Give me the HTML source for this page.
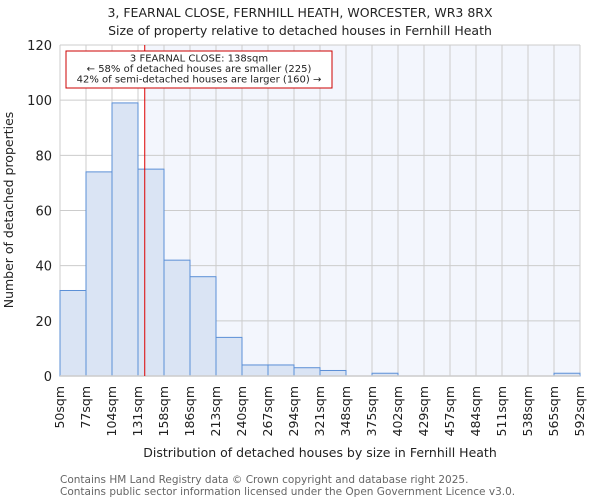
<!DOCTYPE html>
<html><head><meta charset="utf-8"><style>
body{margin:0;background:#fff;font-family:"DejaVu Sans","Liberation Sans",sans-serif}
</style></head><body>
<svg id="chart" width="600" height="500" xmlns="http://www.w3.org/2000/svg" font-family="DejaVu Sans, Liberation Sans, sans-serif">
<text x="300" y="17" text-anchor="middle" font-size="12.5" fill="#222">3, FEARNAL CLOSE, FERNHILL HEATH, WORCESTER, WR3 8RX</text>
<text x="300" y="35" text-anchor="middle" font-size="12.5" fill="#222">Size of property relative to detached houses in Fernhill Heath</text>
<g id="plot"></g>
<text transform="translate(13,210) rotate(-90)" text-anchor="middle" font-size="12.5" fill="#222">Number of detached properties</text>
<text x="320" y="457" text-anchor="middle" font-size="12.5" fill="#222">Distribution of detached houses by size in Fernhill Heath</text>
<text x="60" y="483" font-size="10.5" fill="#666">Contains HM Land Registry data © Crown copyright and database right 2025.</text>
<text x="60" y="495" font-size="10.5" fill="#666">Contains public sector information licensed under the Open Government Licence v3.0.</text>
</svg>
<script>
const binLabels=["50sqm","77sqm","104sqm","131sqm","158sqm","186sqm","213sqm","240sqm","267sqm","294sqm","321sqm","348sqm","375sqm","402sqm","429sqm","457sqm","484sqm","511sqm","538sqm","565sqm","592sqm"];
const binEdges=[50,77,104,131,158,186,213,240,267,294,321,348,375,402,429,457,484,511,538,565,592];
const counts=[31,74,99,75,42,36,14,4,4,3,2,0,1,0,0,0,0,0,0,1];
const yTicks=[0,20,40,60,80,100,120];
const propertySize=138;
const NS="http://www.w3.org/2000/svg";
const L=60,R=580,T=45,B=376,YMAX=120;
const n=counts.length;
const xi=i=>L+(R-L)*i/n;
const xv=v=>{for(let i=0;i<n;i++){if(v<=binEdges[i+1])return xi(i)+(v-binEdges[i])/(binEdges[i+1]-binEdges[i])*(xi(i+1)-xi(i));}return R;};
const y=v=>B-(B-T)*v/YMAX;
const g=document.getElementById('plot');
function mk(t,a){const e=document.createElementNS(NS,t);for(const k in a)e.setAttribute(k,a[k]);g.appendChild(e);return e;}
const rx=xv(propertySize);
let e=mk('rect',{x:L,y:T,width:R-L,height:B-T,fill:'#fff'});


e=mk('rect',{x:rx,y:T,width:R-rx,height:B-T,fill:'#f3f6fd'});


for(let i=0;i<=n;i++){e=mk('line',{x1:xi(i),x2:xi(i),y1:T,y2:B,stroke:'#ccc','stroke-width':1});

}
yTicks.forEach(t=>{e=mk('line',{x1:L,x2:R,y1:y(t),y2:y(t),stroke:'#ccc','stroke-width':1});


e=mk('text',{x:L-8,y:y(t)+5,'text-anchor':'end','font-size':13,fill:'#222'});e.textContent=t;

});
counts.forEach((c,i)=>{if(c<=0)return;e=mk('rect',{x:xi(i),y:y(c),width:xi(i+1)-xi(i),height:B-y(c),fill:'#dae4f4',stroke:'#5b8fd6','stroke-width':1});

});
e=mk('line',{x1:L,x2:R,y1:B,y2:B,stroke:'#ccc','stroke-width':1.5});


binLabels.forEach((lb,i)=>{const x=xi(i)+4;e=mk('text',{transform:`translate(${x},${B+10}) rotate(-90)`,'text-anchor':'end','font-size':12.5,fill:'#222'});e.textContent=lb;

});
e=mk('line',{x1:rx,x2:rx,y1:T,y2:B,stroke:'#d00','stroke-width':1});


e=mk('rect',{x:66,y:51,width:266,height:37,fill:'#fff',stroke:'#c00','stroke-width':1});


["3 FEARNAL CLOSE: 138sqm","← 58% of detached houses are smaller (225)","42% of semi-detached houses are larger (160) →"].forEach((t,i)=>{e=mk('text',{x:199,y:61.5+i*10.5,'text-anchor':'middle','font-size':10,fill:'#222'});e.textContent=t;

});
</script>
</body></html>
